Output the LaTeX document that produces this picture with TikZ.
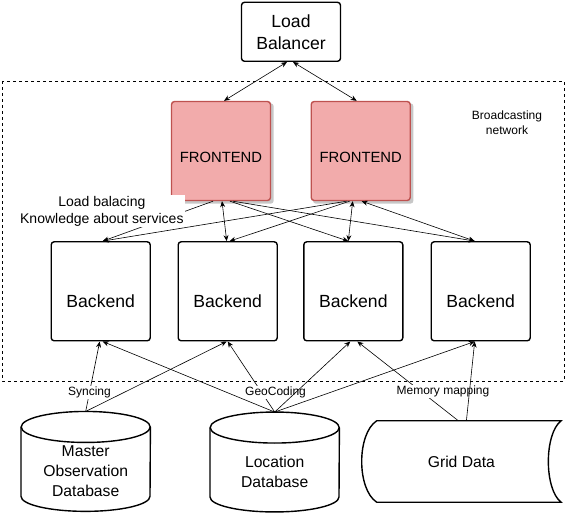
\documentclass[tikz,border=0pt]{standalone}
\usepackage{fontspec}
\setmainfont{Liberation Sans}
\usetikzlibrary{arrows.meta,backgrounds}
\definecolor{frontfill}{RGB}{242,171,171}
\definecolor{frontline}{RGB}{190,82,80}
\newcommand{\fsz}[2]{\fontsize{#1}{#2}\selectfont}

\begin{document}
\begin{tikzpicture}[x=1pt,y=-1pt,
  box/.style={draw, line width=1.4pt, rounded corners=3pt, align=center},
  lbbox/.style={box, minimum width=99pt, minimum height=59pt, font=\fsz{17.6}{22}},
  front/.style={box, draw=frontline, fill=frontfill, minimum width=99pt, minimum height=99pt,
    font=\fsz{14.8}{18}, text height=24pt, text depth=0pt},
  back/.style={box, minimum width=99pt, minimum height=99pt, font=\fsz{17.6}{22},
    text height=33pt, text depth=0pt},
  dbbox/.style={minimum width=129pt, minimum height=99.5pt, inner sep=0pt},
  dbtext/.style={align=center, font=\fsz{15.7}{20}, yshift=-10pt},
  dbline/.style={line width=1.4pt},
  conn/.style={line width=0.6pt, -{Stealth[length=6pt,width=5pt]}},
  both/.style={{Stealth[length=6pt,width=5pt]}-{Stealth[length=6pt,width=5pt]}},
  elbl/.style={fill=white, inner sep=1pt, align=center, font=\fsz{12}{14.5}}]
\useasboundingbox (0,0) rectangle (566,516);
\draw[line width=0.8pt, dash pattern=on 3pt off 3pt] (2,81) rectangle (564,381);
\node[elbl] (bnet) at (507,122.5) {Broadcasting\\network};

\node[lbbox] (lb) at (291,31.8) {Load\\Balancer};
\node[front] (f1) at (221,151) {FRONTEND};
\node[front] (f2) at (360.7,151) {FRONTEND};
\begin{scope}[on background layer]
\foreach \f in {f1,f2}
  \fill[black!22, rounded corners=3pt] ([shift={(2.5,2.5)}]\f.south west) rectangle ([shift={(2.5,2.5)}]\f.north east);
\end{scope}
\node[back] (b1) at (100.7,291.3) {Backend};
\node[back] (b2) at (227.7,291.3) {Backend};
\node[back] (b3) at (353.3,291.3) {Backend};
\node[back] (b4) at (480.7,291.3) {Backend};
\node[dbbox, label={[dbtext]center:Master\\Observation\\Database}] (mdb) at (85.7,461.4) {};
\node[dbbox, label={[dbtext]center:Location\\Database}] (ldb) at (274.7,462) {};
\foreach \db in {mdb,ldb} {
  \draw[dbline] ([yshift=-15.5pt]\db.north west) -- ([yshift=15pt]\db.south west)
    arc[start angle=180, end angle=0, x radius=64.5, y radius=15] -- ([yshift=-15.5pt]\db.north east);
  \draw[dbline] ([yshift=-15.5pt]\db.north) ellipse[x radius=64.5, y radius=15.5];
}
\node[minimum width=199pt, minimum height=81pt, inner sep=0pt, font=\fsz{15.7}{20}] (gd) at (461.4,461.5) {Grid Data};
\draw[dbline] ([xshift=15pt]gd.north west) -- (gd.north east)
  .. controls +(-17,13) and +(-17,-13) .. (gd.south east) -- ([xshift=15pt]gd.south west)
  .. controls +(-20,-13) and +(-20,13) .. ([xshift=15pt]gd.north west) -- cycle;

\path[conn]
  ([xshift=-4pt]lb.south) edge[both] ([xshift=3pt]f1.north)
  ([xshift=2pt]lb.south) edge[both] ([xshift=-4pt]f2.north)
  ([xshift=-8pt]f1.south) edge node[elbl, font=\fsz{14}{16.7}, xshift=-56pt, yshift=10pt]
    {Load balacing\\Knowledge about services} ([xshift=2pt]b1.north)
  ([xshift=1pt]f1.south) edge[both] ([xshift=-1pt]b2.north)
  ([xshift=9pt]f1.south) edge ([xshift=-5pt]b3.north)
  ([xshift=12pt]f1.south) edge ([xshift=-6pt]b4.north)
  ([xshift=-14pt]f2.south) edge ([xshift=2pt]b1.north)
  ([xshift=-11pt]f2.south) edge ([xshift=2pt]b2.north)
  ([xshift=-8pt]f2.south) edge[both] ([xshift=-5pt]b3.north)
  ([xshift=1pt]f2.south) edge[both] ([xshift=-6pt]b4.north);

\path[conn]
  (mdb.north) edge node[elbl, pos=.27] {Syncing} ([xshift=-1pt]b1.south)
  (ldb.north) edge node[elbl, pos=.28, xshift=14pt] {GeoCoding} (b2.south)
  ([xshift=-3pt]gd.north) edge node[elbl, pos=.37, xshift=22pt] {Memory mapping} ([xshift=4pt]b3.south)
  (mdb.north) edge ([xshift=-1pt]b2.south)
  (ldb.north) edge ([xshift=2pt]b1.south)
  (ldb.north) edge ([xshift=-3pt]b3.south)
  (ldb.north) edge ([xshift=-6pt]b4.south)
  ([xshift=5pt]gd.north) edge ([xshift=-6pt]b4.south);
\end{tikzpicture}
\end{document}
